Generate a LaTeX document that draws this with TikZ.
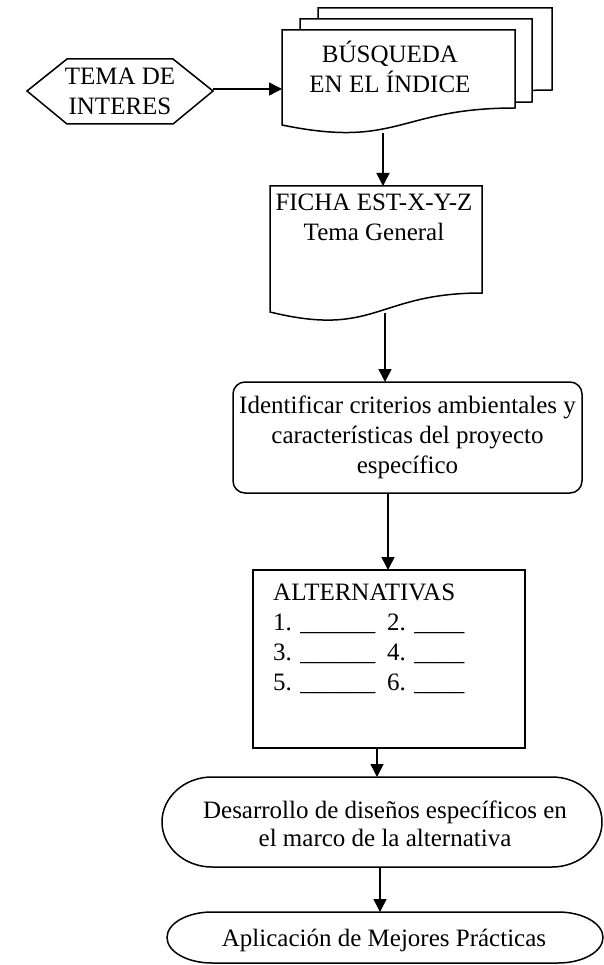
\documentclass[tikz,border=0pt]{standalone}
\usepackage{fontspec}
\setmainfont{Liberation Serif}
\usetikzlibrary{arrows.meta}

\newcommand\altline[2]{\makebox[114pt][l]{#1. \_\_\_\_\_\_}#2. \_\_\_\_}

\begin{document}
\begin{tikzpicture}[x=1pt,y=-1pt,
        forma/.style={draw=black, line width=1.5pt, fill=white},
        flecha/.style={draw=black, line width=1.5pt, -{Triangle[length=13pt,width=13pt]}},
        texto/.style={font=\fontsize{25}{30}\selectfont, align=center, inner sep=0pt}]
            % left, top, right, bottom left, bottom right, bulge
            \def\documento#1#2#3#4#5#6{%
                \draw[forma] (#1,#2) -- (#3,#2) -- (#3,#5)
                    .. controls ({(#1+#3)/2},#5) and ({(#1+#3)/2},#4+#6) .. (#1,#4) -- cycle;}

            \useasboundingbox (0,0) rectangle (604,965);

            % hexagono de entrada
            \draw[forma] (27,91) -- (67,59) -- (173,59) -- (213,91) -- (173,124) -- (67,124) -- cycle;
            \node[texto] (tema) at (120,91) {TEMA DE\\INTERES};
            \coordinate (tema-e) at (213,89);

            % pila de documentos
            \documento{318}{8}{552}{103}{90}{24}
            \documento{300}{19}{532}{114}{102}{24}
            \documento{282}{30}{515}{125}{108}{24}
            \node[texto] (busqueda) at (390,67) {BÚSQUEDA\\EN EL ÍNDICE};
            \coordinate (busqueda-w) at (282,89);
            \coordinate (busqueda-s) at (383,133);

            % ficha
            \documento{270}{186}{482}{312}{293}{26}
            \node[texto] (ficha) at (374,217) {FICHA EST-X-Y-Z\\Tema General};
            \coordinate (ficha-n) at (383,186);
            \coordinate (ficha-s) at (385,313);

            \node[forma, texto, rounded corners=12pt, minimum width=349pt, minimum height=111pt]
                (identificar) at (407.5,437.5)
                {Identificar criterios ambientales y\\características del proyecto\\específico};
            \coordinate (identificar-n) at (385,382);
            \coordinate (identificar-s) at (388,493);

            \node[forma, minimum width=272pt, minimum height=178pt] (alternativas) at (389,659) {};
            \node[texto, align=left, anchor=north west] (listado) at (273,584)
                {ALTERNATIVAS\\\altline{1}{2}\\\altline{3}{4}\\\altline{5}{6}};
            \coordinate (alternativas-n) at (388,570);
            \coordinate (alternativas-s) at (377,748);

            % terminales
            \draw[forma] (212,777) -- (552,777) arc (-90:90:50 and 45) -- (212,867) arc (90:270:50 and 45) -- cycle;
            \node[texto, font=\fontsize{25}{28}\selectfont] (desarrollo) at (385,824)
                {Desarrollo de diseños específicos en\\el marco de la alternativa};
            \coordinate (desarrollo-n) at (377,777);
            \coordinate (desarrollo-s) at (380,867);

            \draw[forma] (212,912) -- (558,912) arc (-90:90:45 and 25.5) -- (212,963) arc (90:270:45 and 25.5) -- cycle;
            \node[texto] (aplicacion) at (384,940) {Aplicación de Mejores Prácticas};
            \coordinate (aplicacion-n) at (380,912);

            \draw[flecha] (tema-e) -- (busqueda-w);
            \draw[flecha] (busqueda-s) -- (ficha-n);
            \draw[flecha] (ficha-s) -- (identificar-n);
            \draw[flecha] (identificar-s) -- (alternativas-n);
            \draw[flecha] (alternativas-s) -- (desarrollo-n);
            \draw[flecha] (desarrollo-s) -- (aplicacion-n);
        \end{tikzpicture}
\end{document}
